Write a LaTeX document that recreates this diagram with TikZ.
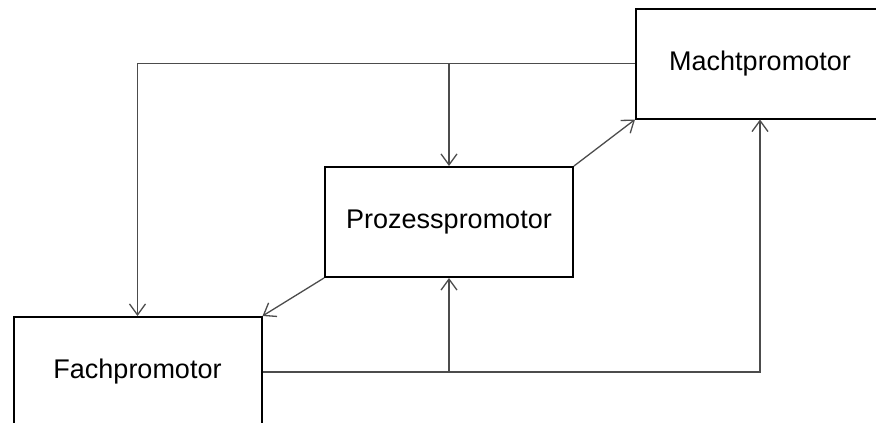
\documentclass[tikz,border=0pt]{standalone}
\usepackage{fontspec}
\setmainfont{Liberation Sans}
\usetikzlibrary{arrows.meta}

\begin{document}
\begin{tikzpicture}[x=1pt, y=1pt,
    promotor/.style={draw, line width=2pt, minimum width=248pt, minimum height=110pt,
      inner sep=0pt, font=\fontsize{27}{32}\selectfont, text=black},
    link/.style={draw=black!70, line width=1.3pt,
      -{Straight Barb[length=11pt, width=16pt, line width=1.3pt]}}]
  \useasboundingbox (0,0) rectangle (876,-423);

  % Boxes
  \node[promotor] (macht)   at (760,-63.5) {Machtpromotor};
  \node[promotor] (prozess) at (449,-222)  {Prozesspromotor};
  \node[promotor] (fach)    at (137.5,-372) {Fachpromotor};

  % Branch points
  \coordinate (topfork) at (macht.west -| prozess.north);
  \coordinate (botfork) at (fach.east -| prozess.south);

  % Upper line from Machtpromotor
  \draw[link] (macht.west) -| (fach.north);
  \draw[link] (topfork) -- (prozess.north);

  % Lower line from Fachpromotor
  \draw[link] (fach.east) -| (macht.south);
  \draw[link] (botfork) -- (prozess.south);

  % Diagonals
  \draw[link] (prozess.north east) -- (macht.south west);
  \draw[link] (prozess.south west) -- (fach.north east);
\end{tikzpicture}
\end{document}
